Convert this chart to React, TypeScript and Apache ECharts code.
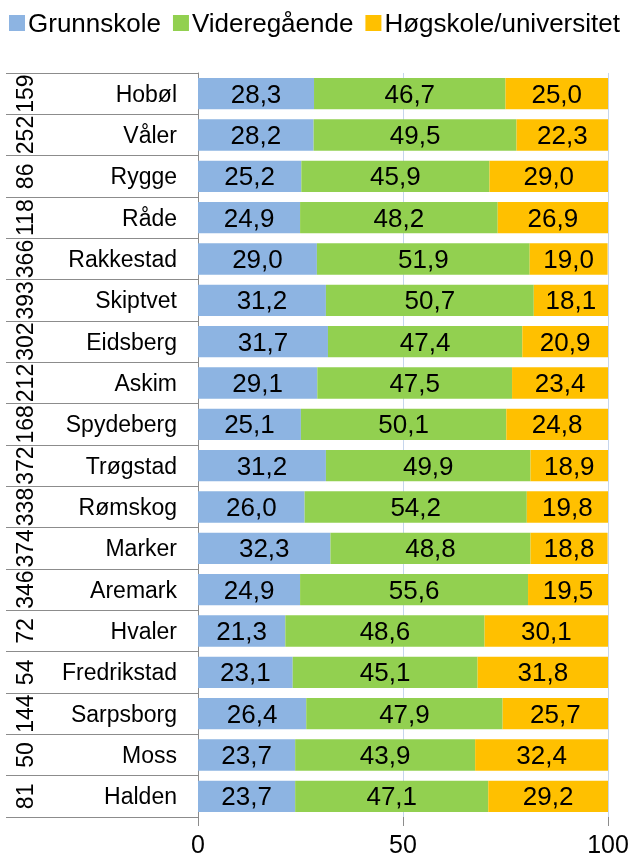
import React, { useEffect, useRef } from "react";
import * as echarts from "echarts";

const municipalities = ["Hobøl", "Våler", "Rygge", "Råde", "Rakkestad", "Skiptvet", "Eidsberg", "Askim", "Spydeberg", "Trøgstad", "Rømskog", "Marker", "Aremark", "Hvaler", "Fredrikstad", "Sarpsborg", "Moss", "Halden"];
const ranks = ["159", "252", "86", "118", "366", "393", "302", "212", "168", "372", "338", "374", "346", "72", "54", "144", "50", "81"];
const grunnskole = [28.3, 28.2, 25.2, 24.9, 29.0, 31.2, 31.7, 29.1, 25.1, 31.2, 26.0, 32.3, 24.9, 21.3, 23.1, 26.4, 23.7, 23.7];
const videregaende = [46.7, 49.5, 45.9, 48.2, 51.9, 50.7, 47.4, 47.5, 50.1, 49.9, 54.2, 48.8, 55.6, 48.6, 45.1, 47.9, 43.9, 47.1];
const hogskole = [25.0, 22.3, 29.0, 26.9, 19.0, 18.1, 20.9, 23.4, 24.8, 18.9, 19.8, 18.8, 19.5, 30.1, 31.8, 25.7, 32.4, 29.2];
const seriesNames = ["Grunnskole", "Videregående", "Høgskole/universitet"];
const colors = ["#8DB4E2", "#92D050", "#FFC000"];
const xTicks = [0, 50, 100];

const FONT = "'Liberation Sans', Arial, sans-serif";

export default function App() {
  const ref = useRef<HTMLDivElement>(null);
  useEffect(() => {
    if (!ref.current) return;
    const chart = echarts.init(ref.current, null, { renderer: "svg" });
    const fmt = (p: any) => Number(p.value).toFixed(1).replace(".", ",");
    const datasets = [grunnskole, videregaende, hogskole];
    chart.setOption({
      animation: false,
      textStyle: { fontFamily: FONT },
      color: colors,
      legend: {
        left: 9,
        top: 10,
        padding: 0,
        itemWidth: 16,
        itemHeight: 16,
        itemGap: 12,
        icon: "rect",
        textStyle: { fontSize: 26, color: "#000", fontFamily: FONT, padding: [0, 0, 0, -2] },
        data: seriesNames,
      },
      grid: { left: 198, right: 26, top: 73, bottom: 41, containLabel: false },
      xAxis: {
        type: "value",
        min: xTicks[0],
        max: xTicks[xTicks.length - 1],
        interval: 50,
        axisLine: { show: false },
        axisTick: { show: true, length: 9, lineStyle: { color: "#8c8c8c" } },
        splitLine: { show: true, lineStyle: { color: "#C6D6EC", width: 1 } },
        axisLabel: { fontSize: 25, color: "#000", margin: 14, fontFamily: FONT },
      },
      yAxis: [
        {
          type: "category",
          inverse: true,
          data: municipalities,
          axisLine: { show: true, lineStyle: { color: "#8c8c8c", width: 1 } },
          axisTick: { show: true, interval: 0, length: 192, lineStyle: { color: "#8c8c8c", width: 1 } },
          axisLabel: { fontSize: 23, color: "#000", margin: 21, interval: 0, fontFamily: FONT },
        },
        {
          type: "category",
          inverse: true,
          position: "left",
          offset: 160,
          data: ranks,
          axisLine: { show: false },
          axisTick: { show: false },
          axisLabel: { fontSize: 23, color: "#000", margin: 2, rotate: 90, interval: 0, fontFamily: FONT },
        },
      ],
      series: datasets.map((d, i) => ({
        name: seriesNames[i],
        type: "bar",
        stack: "total",
        yAxisIndex: 0,
        barWidth: "76%",
        data: d,
        itemStyle: { color: colors[i] },
        label: { show: true, position: "inside", formatter: fmt, fontSize: 26, color: "#000", fontFamily: FONT },
      })),
    });
    return () => chart.dispose();
  }, []);
  return <div ref={ref} style={{ position: "fixed", left: 0, top: 0, width: 634, height: 858 }} />;
}
